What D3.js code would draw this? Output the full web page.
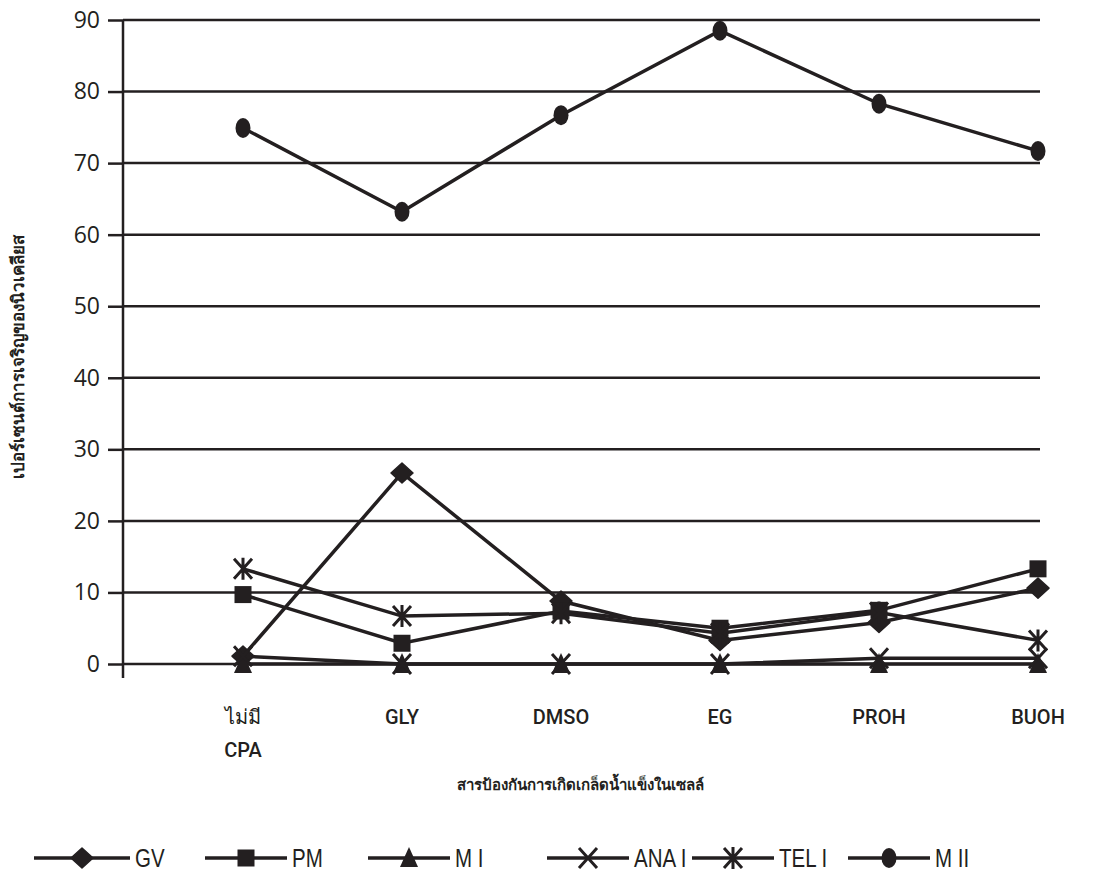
<!DOCTYPE html>
<html>
<head>
<meta charset="utf-8">
<script src="https://cdn.jsdelivr.net/npm/d3@7"></script>
<style>
  html, body { margin: 0; padding: 0; background: #fff; }
  svg { display: block; }
</style>
</head>
<body>
<div id="chart"></div>
<script>
// Nuclear maturation (%) by cryoprotectant — line chart
const categories = ['ไม่มี|CPA', 'GLY', 'DMSO', 'EG', 'PROH', 'BUOH'];
const yTicks = [0, 10, 20, 30, 40, 50, 60, 70, 80, 90];

const GV   = [1.1, 26.7, 8.8, 3.3, 5.8, 10.6];
const PM   = [9.7, 2.9, 7.4, 5.0, 7.5, 13.3];
const MI   = [0, 0, 0, 0, 0, 0];
const ANAI = [1.1, 0, 0, 0, 0.8, 0.8];
const TELI = [13.3, 6.7, 7.1, 4.3, 7.2, 3.3];
const MII  = [74.9, 63.2, 76.7, 88.5, 78.3, 71.7];

const seriesNames = ['GV', 'PM', 'M I', 'ANA I', 'TEL I', 'M II'];
const seriesValues = [GV, PM, MI, ANAI, TELI, MII];
const seriesMarkers = ['diamond', 'square', 'triangle', 'x', 'asterisk', 'circle'];

const W = 1093, H = 882;
const MARGIN = { top: 20, right: 53, bottom: 218, left: 123 };
const INK = '#231f20';

const width = W - MARGIN.left - MARGIN.right;
const height = H - MARGIN.top - MARGIN.bottom;

const svg = d3.select('#chart').append('svg')
  .attr('width', W)
  .attr('height', H)
  .style('font-family', '"Noto Sans", "DejaVu Sans", sans-serif');

const g = svg.append('g').attr('transform', `translate(${MARGIN.left},${MARGIN.top})`);

const x = d3.scalePoint().domain(categories).range([120, width - 2]);
const y = d3.scaleLinear().domain([0, 90]).range([height, 0]);

// gridlines
g.selectAll('.grid')
  .data(yTicks)
  .enter().append('line')
  .attr('x1', 0)
  .attr('x2', width)
  .attr('y1', d => y(d))
  .attr('y2', d => y(d))
  .attr('stroke', INK)
  .attr('stroke-width', 2.5);

// y axis
const yAxis = d3.axisLeft(y).tickValues(yTicks).tickSize(15).tickPadding(8);
const ya = g.append('g').call(yAxis);
ya.select('.domain').remove();
ya.selectAll('.tick line').attr('stroke', INK).attr('stroke-width', 2.5);
ya.selectAll('.tick text')
  .attr('fill', INK)
  .style('font-family', '"Open Sans", sans-serif')
  .style('font-size', '23px');

g.append('line')
  .attr('x1', 0).attr('x2', 0)
  .attr('y1', 0).attr('y2', height + 14)
  .attr('stroke', INK)
  .attr('stroke-width', 2.5);

// category labels
const catLabels = g.append('g')
  .selectAll('text')
  .data(categories)
  .enter().append('text')
  .attr('x', d => x(d))
  .attr('y', height + 60)
  .attr('text-anchor', 'middle')
  .attr('fill', INK)
  .style('font-family', 'Roboto, "Noto Sans", sans-serif')
  .style('font-size', '20px')
  .style('font-weight', 500);
catLabels.each(function (d) {
  const parts = d.split('|');
  d3.select(this).selectAll('tspan')
    .data(parts)
    .enter().append('tspan')
    .attr('x', x(d))
    .attr('dy', (_, i) => i === 0 ? 0 : 33)
    .text(p => p);
});

// axis titles
svg.append('text')
  .attr('x', 580)
  .attr('y', MARGIN.top + height + 126)
  .attr('text-anchor', 'middle')
  .attr('fill', INK)
  .style('font-size', '15px')
  .style('font-weight', 'bold')
  .text('สารป้องกันการเกิดเกล็ดน้ำแข็งในเซลล์');

svg.append('text')
  .attr('transform', `translate(24,${MARGIN.top + y(45) + 15}) rotate(-90)`)
  .attr('text-anchor', 'middle')
  .attr('fill', INK)
  .style('font-size', '17px')
  .style('font-weight', 'bold')
  .text('เปอร์เซนต์การเจริญของนิวเคลียส');

// markers
function drawMarker(sel, type) {
  switch (type) {
    case 'diamond':
      sel.append('path').attr('d', 'M0,-10L11,0L0,10L-11,0Z')
        .attr('fill', INK).attr('stroke', INK).attr('stroke-width', 1.5).attr('stroke-linejoin', 'round');
      break;
    case 'square':
      sel.append('rect').attr('x', -8.5).attr('y', -8.5).attr('width', 17).attr('height', 17).attr('fill', INK);
      break;
    case 'triangle':
      sel.append('path').attr('d', 'M0,-11L9,9L-9,9Z').attr('fill', INK);
      break;
    case 'x':
      sel.append('path').attr('d', 'M-9,-10L9,10M9,-10L-9,10')
        .attr('stroke', INK).attr('stroke-width', 3).attr('fill', 'none');
      break;
    case 'asterisk':
      sel.append('path').attr('d', 'M-9,-10L9,10M9,-10L-9,10M0,-11L0,11')
        .attr('stroke', INK).attr('stroke-width', 3).attr('fill', 'none');
      break;
    case 'circle':
      sel.append('ellipse').attr('rx', 7.5).attr('ry', 10).attr('fill', INK);
      break;
  }
}

const line = d3.line()
  .x((_, i) => x(categories[i]))
  .y(d => y(d));

seriesValues.forEach(vals => {
  g.append('path')
    .datum(vals)
    .attr('d', line)
    .attr('fill', 'none')
    .attr('stroke', INK)
    .attr('stroke-width', 3.5);
});

seriesValues.forEach((vals, si) => {
  g.selectAll(null)
    .data(vals)
    .enter().append('g')
    .attr('transform', (d, i) => `translate(${x(categories[i])},${y(d)})`)
    .each(function () { drawMarker(d3.select(this), seriesMarkers[si]); });
});

// legend
const legendX = [34, 205, 368, 547, 692, 848];
const legendLen = [96, 82, 82, 82, 82, 82];
const legend = svg.append('g').attr('transform', 'translate(0,858)');
seriesNames.forEach((name, i) => {
  const len = legendLen[i];
  const item = legend.append('g').attr('transform', `translate(${legendX[i]},0)`);
  item.append('line')
    .attr('x1', 0).attr('x2', len)
    .attr('stroke', INK).attr('stroke-width', 3.5);
  const m = item.append('g').attr('transform', `translate(${len / 2},0)`);
  drawMarker(m, seriesMarkers[i]);
  item.append('text')
    .attr('transform', `translate(${len + 5},9) scale(0.82,1)`)
    .attr('fill', INK)
    .style('font-family', '"Liberation Sans", Arial, sans-serif')
    .style('font-size', '25px')
    .text(name);
});
</script>
</body>
</html>
